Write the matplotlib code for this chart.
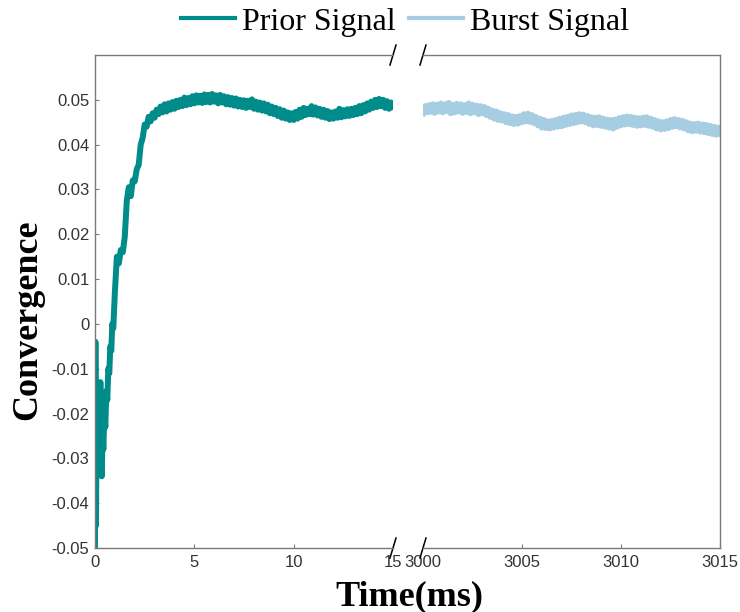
import numpy as np
import matplotlib
matplotlib.use("Agg")
import matplotlib.pyplot as plt

# ---------------- data ----------------
prior_t_start = [0.00, 0.02, 0.05, 0.08, 0.11, 0.14, 0.17, 0.20, 0.23, 0.27, 0.30, 0.34,
                 0.38, 0.42, 0.47, 0.52, 0.57, 0.62, 0.67, 0.72, 0.77, 0.82, 0.87, 0.92, 0.97]
prior_y_start = [-0.050, -0.004, -0.045, -0.021, -0.033, -0.022, -0.030, -0.018, -0.031, -0.013,
                 -0.027, -0.034, -0.024, -0.028, -0.020, -0.023, -0.015, -0.017, -0.010, -0.011,
                 -0.005, -0.006, 0.000, -0.001, 0.004]

prior_t_main = np.round(np.arange(1.0, 15.0001, 0.1), 2)
prior_y_main = [
    0.0070, 0.0150, 0.0135, 0.0165, 0.0160, 0.0195, 0.0275, 0.0305, 0.0285, 0.0320,
    0.0318, 0.0345, 0.0355, 0.0400, 0.0415, 0.0445, 0.0440, 0.0462, 0.0452, 0.0470,
    0.0460, 0.0478, 0.0468, 0.0485, 0.0472, 0.0490, 0.0474, 0.0492, 0.0478, 0.0495,
    0.0480, 0.0498, 0.0484, 0.0500, 0.0486, 0.0505, 0.0488, 0.0504, 0.0490, 0.0508,
    0.0492, 0.0510, 0.0494, 0.0509, 0.0493, 0.0512, 0.0495, 0.0511, 0.0494, 0.0513,
    0.0496, 0.0510, 0.0492, 0.0511, 0.0494, 0.0508, 0.0490, 0.0506, 0.0489, 0.0504,
    0.0487, 0.0503, 0.0485, 0.0500, 0.0484, 0.0499, 0.0482, 0.0498, 0.0484, 0.0501,
    0.0480, 0.0496, 0.0478, 0.0494, 0.0476, 0.0492, 0.0474, 0.0489, 0.0470, 0.0485,
    0.0468, 0.0482, 0.0464, 0.0479, 0.0460, 0.0476, 0.0458, 0.0472, 0.0455, 0.0470,
    0.0455, 0.0473, 0.0458, 0.0478, 0.0462, 0.0482, 0.0466, 0.0480, 0.0468, 0.0486,
    0.0467, 0.0483, 0.0465, 0.0480, 0.0462, 0.0478, 0.0460, 0.0475, 0.0457, 0.0472,
    0.0458, 0.0474, 0.0460, 0.0480, 0.0461, 0.0477, 0.0463, 0.0479, 0.0464, 0.0480,
    0.0466, 0.0482, 0.0468, 0.0486, 0.0470, 0.0488, 0.0474, 0.0492, 0.0478, 0.0496,
    0.0482, 0.0500, 0.0484, 0.0502, 0.0486, 0.0500, 0.0482, 0.0497, 0.0480, 0.0494,
    0.0485]

burst_t = np.round(np.arange(3000.0, 3015.0001, 0.1), 2)
burst_y = [
    0.0470, 0.0486, 0.0472, 0.0488, 0.0473, 0.0490, 0.0471, 0.0489, 0.0474, 0.0492,
    0.0472, 0.0490, 0.0475, 0.0493, 0.0470, 0.0489, 0.0472, 0.0491, 0.0474, 0.0490,
    0.0471, 0.0488, 0.0473, 0.0492, 0.0470, 0.0489, 0.0472, 0.0487, 0.0468, 0.0486,
    0.0470, 0.0484, 0.0466, 0.0480, 0.0462, 0.0476, 0.0458, 0.0474, 0.0455, 0.0470,
    0.0454, 0.0468, 0.0450, 0.0466, 0.0448, 0.0463, 0.0446, 0.0462, 0.0447, 0.0464,
    0.0450, 0.0468, 0.0452, 0.0469, 0.0451, 0.0466, 0.0448, 0.0462, 0.0443, 0.0458,
    0.0438, 0.0455, 0.0437, 0.0452, 0.0436, 0.0453, 0.0438, 0.0455, 0.0440, 0.0458,
    0.0441, 0.0460, 0.0444, 0.0462, 0.0446, 0.0465, 0.0448, 0.0466, 0.0450, 0.0468,
    0.0452, 0.0467, 0.0450, 0.0464, 0.0446, 0.0461, 0.0443, 0.0460, 0.0444, 0.0461,
    0.0442, 0.0458, 0.0440, 0.0456, 0.0438, 0.0455, 0.0436, 0.0456, 0.0440, 0.0459,
    0.0443, 0.0461, 0.0445, 0.0463, 0.0446, 0.0462, 0.0444, 0.0460, 0.0442, 0.0459,
    0.0443, 0.0460, 0.0444, 0.0461, 0.0442, 0.0458, 0.0440, 0.0455, 0.0436, 0.0452,
    0.0434, 0.0450, 0.0435, 0.0452, 0.0437, 0.0455, 0.0440, 0.0457, 0.0441, 0.0455,
    0.0438, 0.0453, 0.0436, 0.0450, 0.0432, 0.0447, 0.0430, 0.0446, 0.0431, 0.0447,
    0.0429, 0.0445, 0.0428, 0.0444, 0.0426, 0.0442, 0.0424, 0.0440, 0.0422, 0.0438,
    0.0425]

left_xticks = [0, 5, 10, 15]
right_xticks = [3000, 3005, 3010, 3015]
yticks = [-0.05, -0.04, -0.03, -0.02, -0.01, 0, 0.01, 0.02, 0.03, 0.04, 0.05]
ytick_labels = ["-0.05", "-0.04", "-0.03", "-0.02", "-0.01", "0",
                "0.01", "0.02", "0.03", "0.04", "0.05"]

prior_color = "#008c8a"
burst_color = "#a6cde2"
spine_color = "#7a7a7a"
tick_label_color = "#333333"

# ---------------- figure ----------------
fig = plt.figure(figsize=(7.4, 6.12), dpi=100)
ax1 = fig.add_axes([95/740, 1-548/612, 298/740, 493/612])
ax2 = fig.add_axes([423/740, 1-548/612, 297/740, 493/612])

prior_t = list(prior_t_start) + list(prior_t_main)
prior_y = list(prior_y_start) + list(prior_y_main)
l1, = ax1.plot(prior_t, prior_y, color=prior_color, lw=4.3)
l2, = ax2.plot(burst_t, burst_y, color=burst_color, lw=4.3)

for ax in (ax1, ax2):
    ax.set_ylim(-0.05, 0.06)
    ax.tick_params(direction="in", length=3, width=0.8, colors=spine_color,
                   labelcolor=tick_label_color, labelsize=12)
    for s in ax.spines.values():
        s.set_color(spine_color)
        s.set_linewidth(1.0)

ax1.set_xlim(0, 15)
ax1.set_xticks(left_xticks)
ax1.set_xticklabels([str(v) for v in left_xticks], family="Liberation Sans")
ax1.set_yticks(yticks)
ax1.set_yticklabels(ytick_labels, family="Liberation Sans")
ax1.spines["right"].set_visible(False)
ax1.tick_params(axis="x", pad=5)
ax1.tick_params(axis="y", pad=4)

ax2.set_xlim(3000, 3015)
ax2.set_xticks(right_xticks)
ax2.set_xticklabels([str(v) for v in right_xticks], family="Liberation Sans")
ax2.set_yticks([])
ax2.spines["left"].set_visible(False)
ax2.tick_params(axis="x", pad=5)

# break marks
kw = dict(color="black", lw=1.1, clip_on=False)
dx, dy = 6/298, 10/493
ax1.plot([1 - dx/2, 1 + dx/2], [1 - dy, 1 + dy], transform=ax1.transAxes, **kw)
ax1.plot([1 - dx/2, 1 + dx/2], [-dy, dy], transform=ax1.transAxes, **kw)
ax2.plot([-dx/2, dx/2], [1 - dy, 1 + dy], transform=ax2.transAxes, **kw)
ax2.plot([-dx/2, dx/2], [-dy, dy], transform=ax2.transAxes, **kw)

fig.text(28/740, 1-320/612, "Convergence", rotation=90, ha="center", va="center",
         family="Liberation Serif", fontweight="bold", fontsize=26)
fig.text(409/740, 1-597/612, "Time(ms)", ha="center", va="center",
         family="Liberation Serif", fontweight="bold", fontsize=26)

fig.legend([l1, l2], ["Prior Signal", "Burst Signal"], loc="center",
           bbox_to_anchor=(405/740, 1-22/612), ncol=2, frameon=False,
           prop={"family": "Liberation Serif", "size": 23},
           handlelength=1.7, handletextpad=0.22, columnspacing=0.4, borderpad=0.1)
for h in fig.legends[0].legend_handles:
    h.set_linewidth(3.0)

fig.savefig("out.png", dpi=100)
